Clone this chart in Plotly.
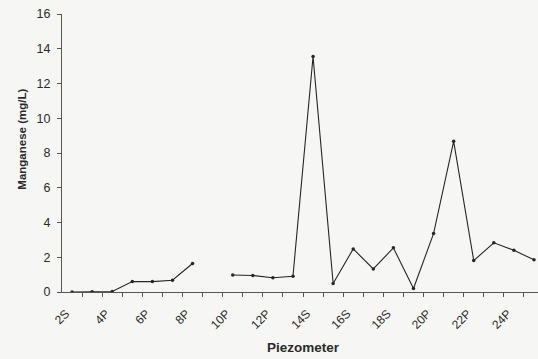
import plotly.graph_objects as go

piezometers = ["2S", "3P", "4P", "5P", "6P", "7P", "8P", "9P", "10P", "11P", "12P", "13P",
               "14S", "15S", "16S", "17S", "18S", "19P", "20P", "21P", "22P", "23P", "24P", "25P"]
manganese = [0.0, 0.02, 0.03, 0.6, 0.6, 0.68, 1.64, None, 0.98, 0.95, 0.82, 0.91,
             13.55, 0.49, 2.48, 1.33, 2.54, 0.2, 3.36, 8.67, 1.81, 2.83, 2.4, 1.85]
shown_labels = ["2S", "4P", "6P", "8P", "10P", "12P", "14S", "16S", "18S", "20P", "22P", "24P"]
y_ticks = [0, 2, 4, 6, 8, 10, 12, 14, 16]

xs = list(range(len(piezometers)))
# labels sit slightly left of their category, as in the reference
tickvals = [piezometers.index(l) - 0.3 for l in shown_labels]

fig = go.Figure()
fig.add_trace(go.Scatter(
    x=xs, y=manganese, mode="lines+markers",
    line=dict(color="#262626", width=1.1),
    marker=dict(color="#262626", size=3.5, symbol="circle"),
    connectgaps=False, showlegend=False,
))

font = "Liberation Sans, Arial, sans-serif"
bg = "#f6f7f5"
fig.update_layout(
    width=538, height=359,
    margin=dict(l=62, r=0, t=14, b=66.5),
    paper_bgcolor=bg, plot_bgcolor=bg,
    font=dict(family=font, color="#2a2a2a", size=12),
    xaxis=dict(
        range=[-0.5, 23.2], tickmode="array", tickvals=tickvals, ticktext=shown_labels,
        tickangle=-45, ticks="", showgrid=False, zeroline=False,
        showline=True, linecolor="#555", linewidth=1,
        minor=dict(tickmode="array", tickvals=[i + 0.5 for i in xs], ticks="outside",
                   ticklen=4, tickcolor="#555", tickwidth=1, showgrid=False),
        tickfont=dict(size=12), automargin=False, ticklabelstandoff=9,
    ),
    yaxis=dict(
        range=[0, 16], tickmode="array", tickvals=y_ticks,
        ticks="outside", ticklen=4, tickcolor="#555", showgrid=False, zeroline=False,
        showline=True, linecolor="#555", linewidth=1,
        tickfont=dict(size=12.5), automargin=False, ticklabelstandoff=4,
    ),
    annotations=[
        dict(text="<b>Piezometer</b>", xref="paper", yref="paper", x=0.508, y=-0.2,
             xanchor="center", yanchor="middle", showarrow=False, font=dict(size=13.5)),
        dict(text="<b>Manganese (mg/L)</b>", xref="paper", yref="paper", x=-0.084, y=0.548,
             xanchor="center", yanchor="middle", textangle=-90, showarrow=False,
             font=dict(size=11.5)),
    ],
)

fig.write_html("out.html", config={"displayModeBar": False},
               post_script="document.body.style.margin='0';document.body.style.overflow='hidden';")
